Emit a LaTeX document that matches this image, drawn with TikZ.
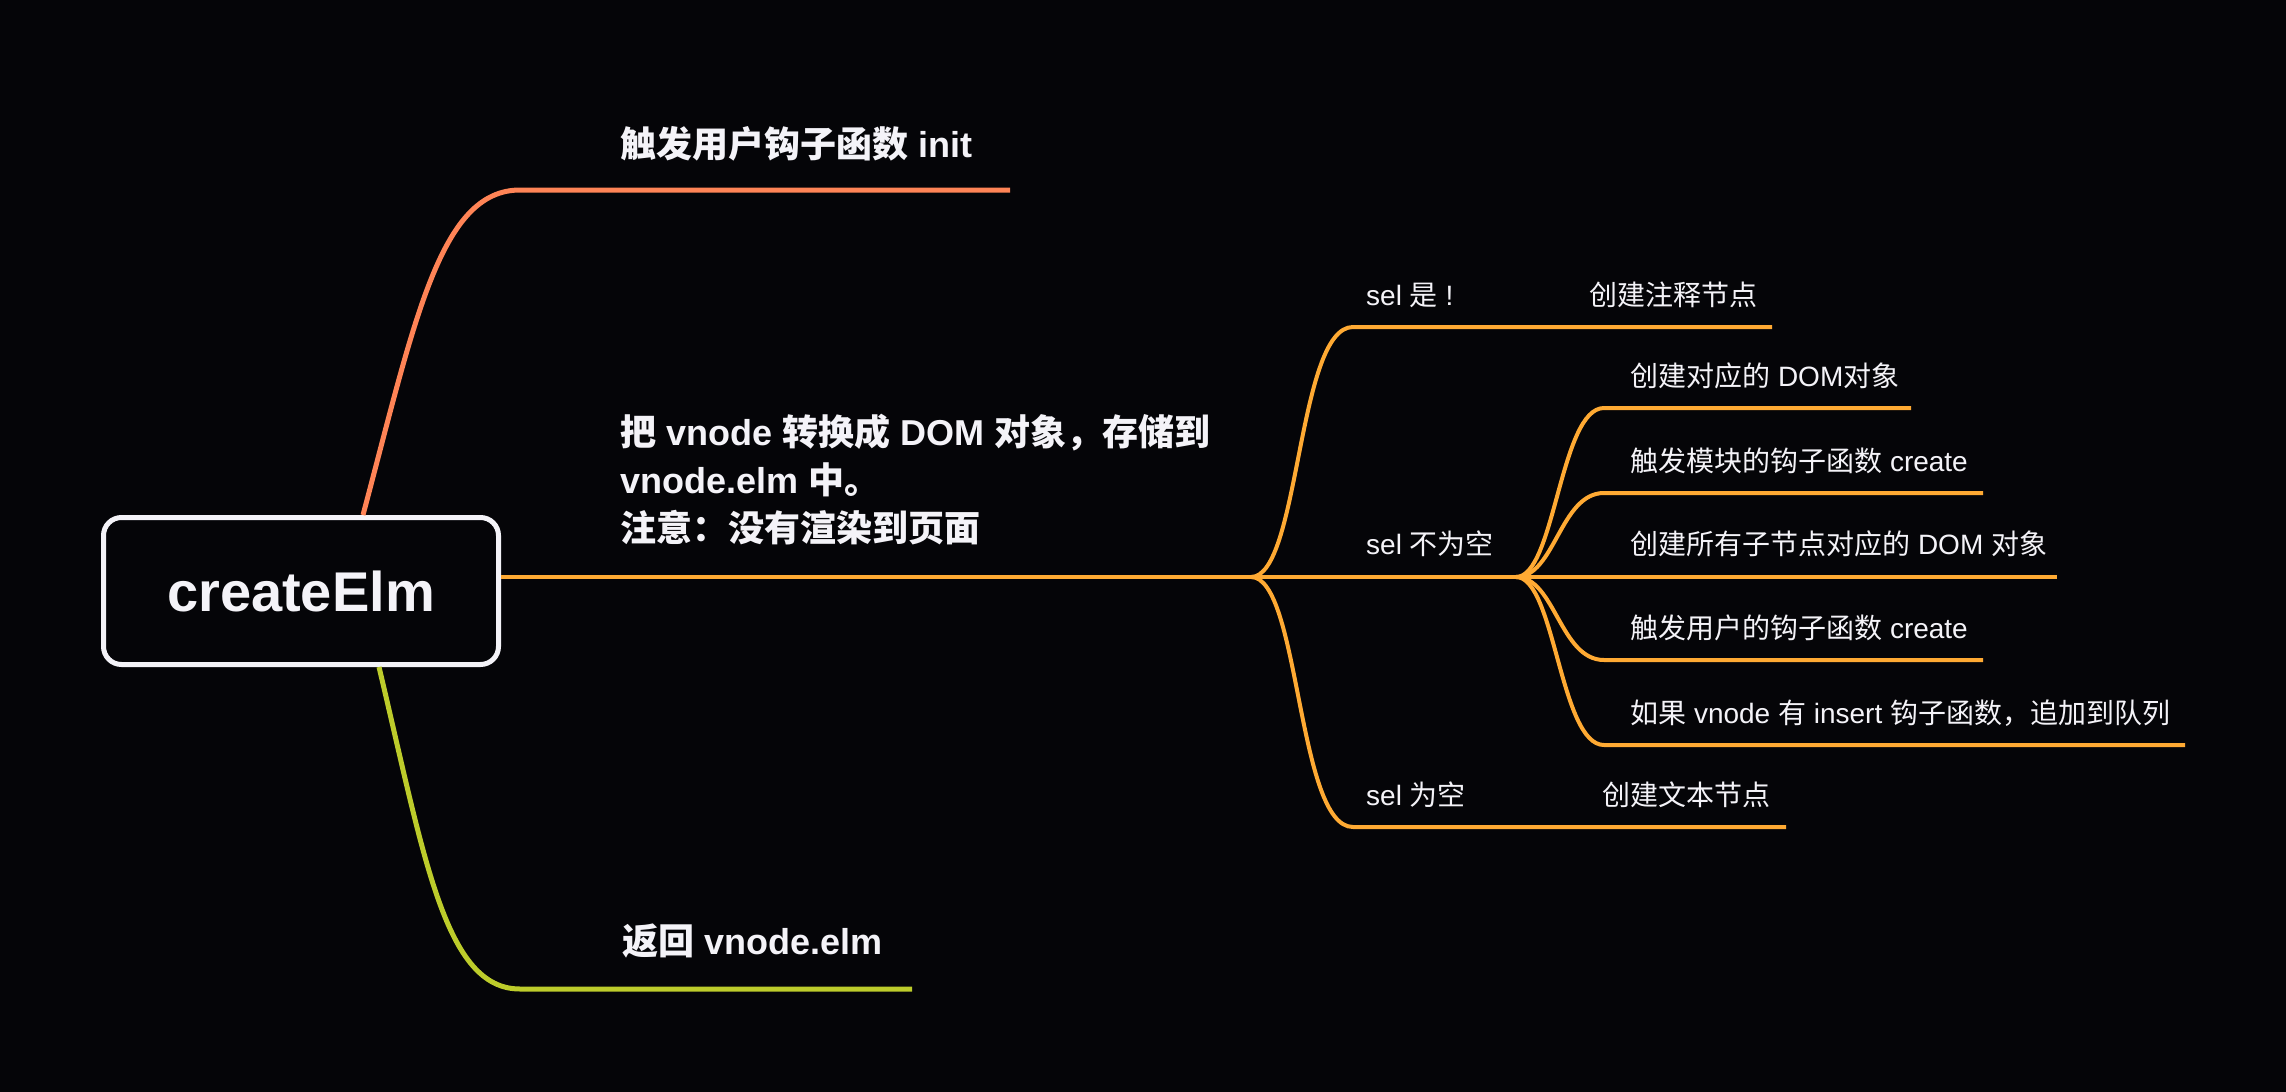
\documentclass[tikz,border=0pt]{standalone}
\usepackage{fontspec}
\setmainfont{Liberation Sans}
\newfontfamily\cjk{Noto Sans CJK SC}
\newcommand\zh[1]{{\cjk #1}}
\definecolor{bg}{HTML}{050508}
\definecolor{fg}{HTML}{F4F3F8}
\definecolor{cone}{HTML}{FF8456}
\definecolor{ctwo}{HTML}{FFAA33}
\definecolor{cthree}{HTML}{BDCC2B}
\tikzset{
  rootbox/.style={draw=fg, fill=bg, line width=5pt, rounded corners=18pt,
    minimum width=395pt, minimum height=147pt, text=fg,
    font=\fontsize{56}{66}\selectfont\bfseries},
  mainlabel/.style={anchor=base west, inner sep=0pt, text=fg,
    font=\fontsize{36}{48}\selectfont\bfseries},
  sublabel/.style={anchor=base west, inner sep=0pt, text=fg,
    font=\fontsize{28}{34}\selectfont},
  mainbranch/.style={line width=5pt},
  subbranch/.style={line width=4pt, draw=ctwo},
}
\begin{document}
\begin{tikzpicture}[x=1pt,y=-1pt]
\fill[bg] (0,0) rectangle (2286,1092);
\useasboundingbox (0,0) rectangle (2286,1092);

% root
\node[rootbox] (root) at (301,591) {createElm};

% coordinates
\coordinate (r1) at (363,515);
\coordinate (a1) at (520,190);
\coordinate (a1e) at (1010,190);
\coordinate (r3) at (379,667);
\coordinate (a3) at (520,989);
\coordinate (a3e) at (912,989);
\coordinate (f1) at (1251,577);
\coordinate (f2) at (1516,577);
\coordinate (b1) at (1353,327);
\coordinate (b1e) at (1772,327);
\coordinate (b3) at (1353,827);
\coordinate (b3e) at (1786,827);
\coordinate (s1) at (1604,408);
\coordinate (s1e) at (1911,408);
\coordinate (s2) at (1604,493);
\coordinate (s2e) at (1983,493);
\coordinate (s3e) at (2057,577);
\coordinate (s4) at (1604,660);
\coordinate (s4e) at (1983,660);
\coordinate (s5) at (1604,745);
\coordinate (s5e) at (2185,745);

% main branches
\draw[mainbranch, cone] (r1) .. controls (415,320) and (440,190) .. (a1) -- (a1e);
\draw[mainbranch, cthree] (r3) .. controls (425,860) and (445,989) .. (a3) -- (a3e);
\draw[subbranch] (root.east |- f1) -- (f1);

% sub branches
\draw[subbranch] (f1) .. controls (1300,577) and (1297,327) .. (b1) -- (b1e);
\draw[subbranch] (f1) -- (f2);
\draw[subbranch] (f1) .. controls (1300,577) and (1297,827) .. (b3) -- (b3e);
\draw[subbranch] (f2) .. controls (1555,577) and (1560,408) .. (s1) -- (s1e);
\draw[subbranch] (f2) .. controls (1555,577) and (1560,493) .. (s2) -- (s2e);
\draw[subbranch] (f2) -- (s3e);
\draw[subbranch] (f2) .. controls (1555,577) and (1560,660) .. (s4) -- (s4e);
\draw[subbranch] (f2) .. controls (1555,577) and (1560,745) .. (s5) -- (s5e);

% main labels
\node[mainlabel] (t1) at (620,157) {\zh{触发用户钩子函数} init};
\node[mainlabel, anchor=west, align=left] (t2) at (620,480)
  {\zh{把} vnode \zh{转换成} DOM \zh{对象，存储到}\\vnode.elm \zh{中。}\\\zh{注意：没有渲染到页面}};
\node[mainlabel] (t3) at (622,954) {\zh{返回} vnode.elm};

% sub labels
\node[sublabel] (u1) at (1366,305) {sel \zh{是} !};
\node[sublabel] (u1b) at (1589,305) {\zh{创建注释节点}};
\node[sublabel] (u2) at (1366,554) {sel \zh{不为空}};
\node[sublabel] (u3) at (1366,805) {sel \zh{为空}};
\node[sublabel] (u3b) at (1602,805) {\zh{创建文本节点}};

\node[sublabel] (v1) at (1630,386) {\zh{创建对应的} DOM\zh{对象}};
\node[sublabel] (v2) at (1630,471) {\zh{触发模块的钩子函数} create};
\node[sublabel] (v3) at (1630,554) {\zh{创建所有子节点对应的} DOM \zh{对象}};
\node[sublabel] (v4) at (1630,638) {\zh{触发用户的钩子函数} create};
\node[sublabel] (v5) at (1630,723) {\zh{如果} vnode \zh{有} insert \zh{钩子函数，追加到队列}};
\end{tikzpicture}
\end{document}
